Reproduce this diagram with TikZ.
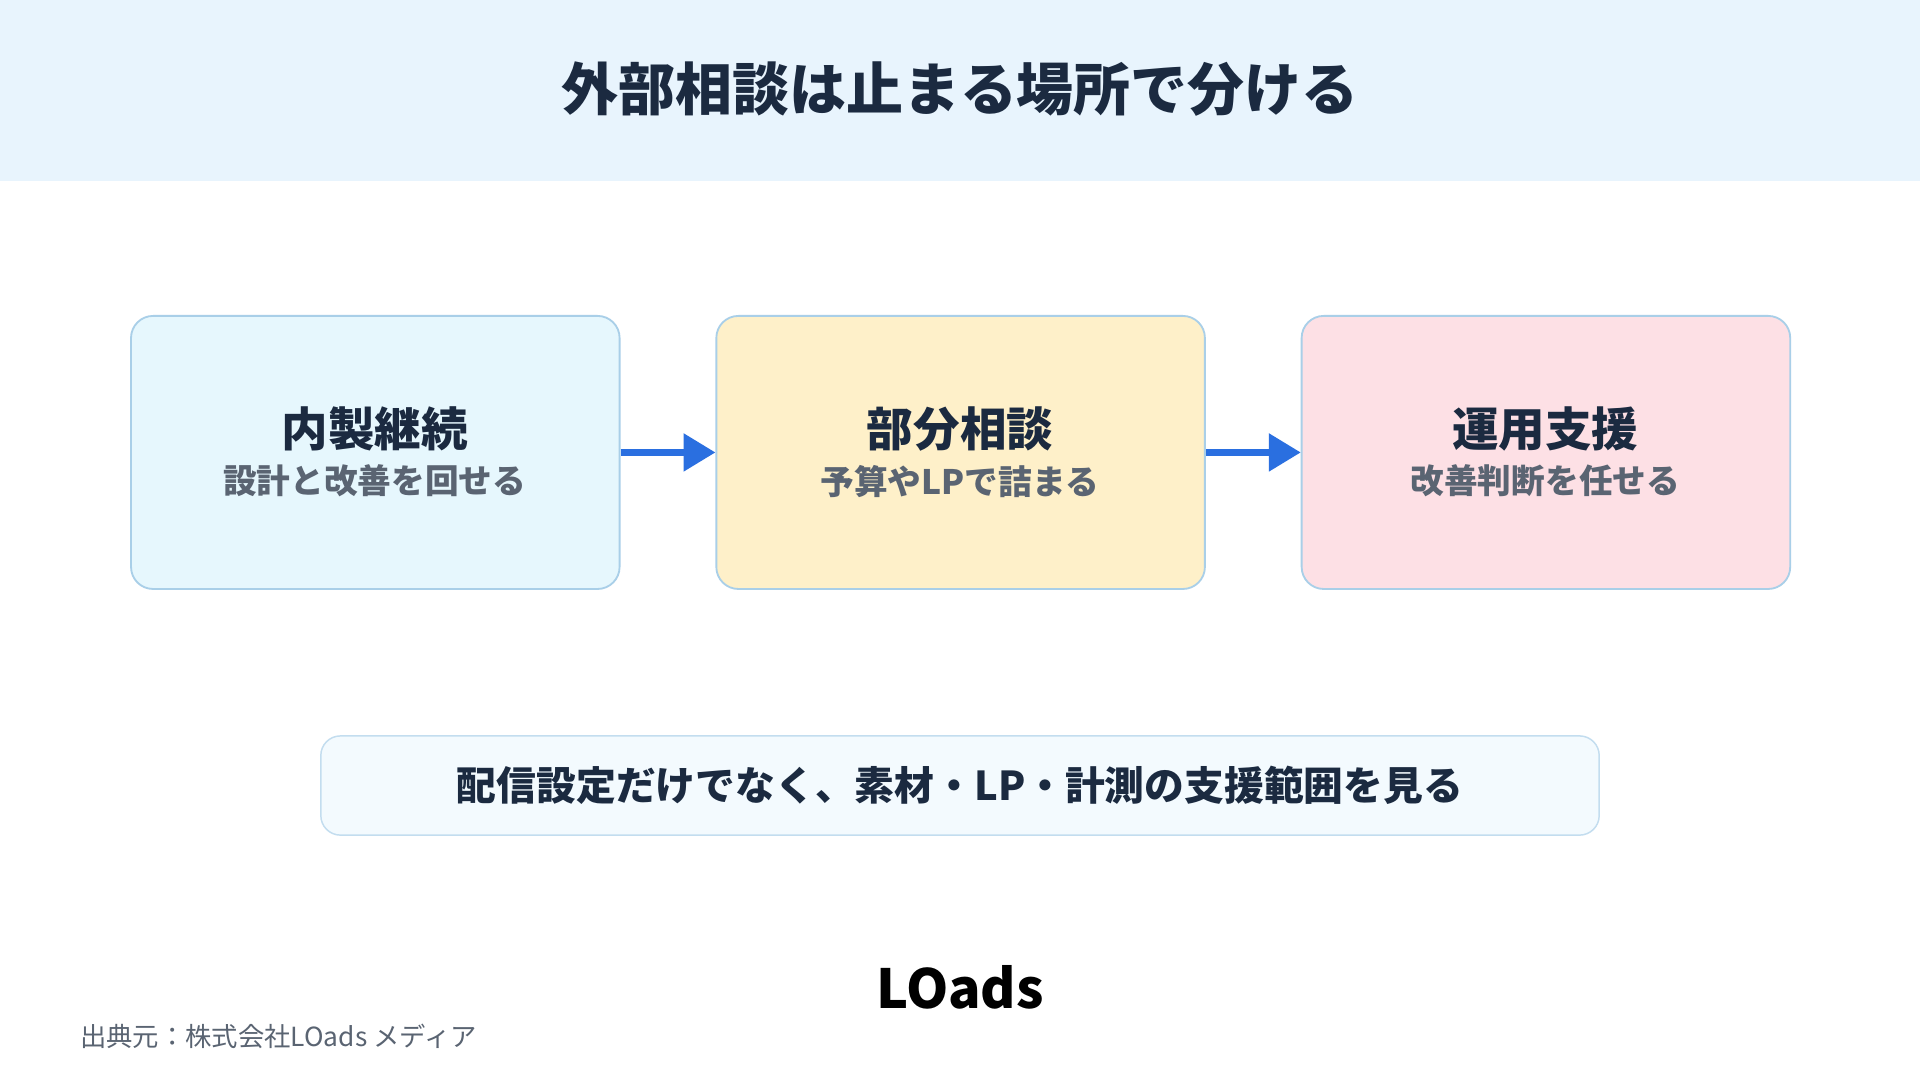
\documentclass[tikz,border=0pt]{standalone}
\usepackage{fontspec}
\setmainfont{Noto Sans CJK JP}
\usetikzlibrary{arrows.meta}
\definecolor{hdr}{HTML}{E8F4FD}
\definecolor{ink}{HTML}{1B2A40}
\definecolor{sub}{HTML}{5A6472}
\definecolor{bord}{HTML}{A9CFE8}
\definecolor{fa}{HTML}{E6F7FD}
\definecolor{fb}{HTML}{FEF0C9}
\definecolor{fc}{HTML}{FDE0E5}
\definecolor{arr}{HTML}{2A6FE0}
\tikzset{
 card/.style={draw=bord,line width=1.5pt,rounded corners=18pt,minimum width=399pt,minimum height=223pt},
 ttl/.style={font=\fontsize{38}{42}\selectfont\bfseries,text=ink},
 st/.style={font=\fontsize{27.5}{31}\selectfont\bfseries,text=sub},
 flow/.style={draw=arr,line width=5pt,-{Triangle[length=26pt,width=30pt]}}
}
\begin{document}
\begin{tikzpicture}[x=1pt,y=-1pt]
\useasboundingbox (0,0) rectangle (1568,882);
\fill[white] (0,0) rectangle (1568,882);
\fill[hdr] (0,0) rectangle (1568,148);
\node[font=\fontsize{46.5}{50}\selectfont\bfseries,text=ink] (title) at (784,73) {外部相談は止まる場所で分ける};
\node[card,fill=fa] (a) at (306.5,369.5) {};
\node[card,fill=fb] (b) at (784.5,369.5) {};
\node[card,fill=fc] (c) at (1262.5,369.5) {};
\node[ttl] (at) at (306,350) {内製継続};
\node[st] (as) at (306,393) {設計と改善を回せる};
\node[ttl] (bt) at (784,350) {部分相談};
\node[st] (bs) at (784,393) {予算やLPで詰まる};
\node[ttl] (ct) at (1262,350) {運用支援};
\node[st] (cs) at (1262,393) {改善判断を任せる};
\draw[flow] (a.east) -- (b.west);
\draw[flow] (b.east) -- (c.west);
\node[draw=bord!70,fill=hdr!50,line width=1.2pt,rounded corners=16pt,minimum width=1044pt,minimum height=81pt] (note) at (784,641.5) {};
\node[font=\fontsize{32.5}{36}\selectfont\bfseries,text=ink] (nt) at (784,641) {配信設定だけでなく、素材・LP・計測の支援範囲を見る};
\node[font=\fontsize{44}{48}\selectfont\bfseries,text=black] (logo) at (784,806) {LOads};
\node[font=\fontsize{21.5}{25}\selectfont,text=sub,anchor=west] (src) at (62,846) {出典元：株式会社LOads メディア};
\end{tikzpicture}
\end{document}
